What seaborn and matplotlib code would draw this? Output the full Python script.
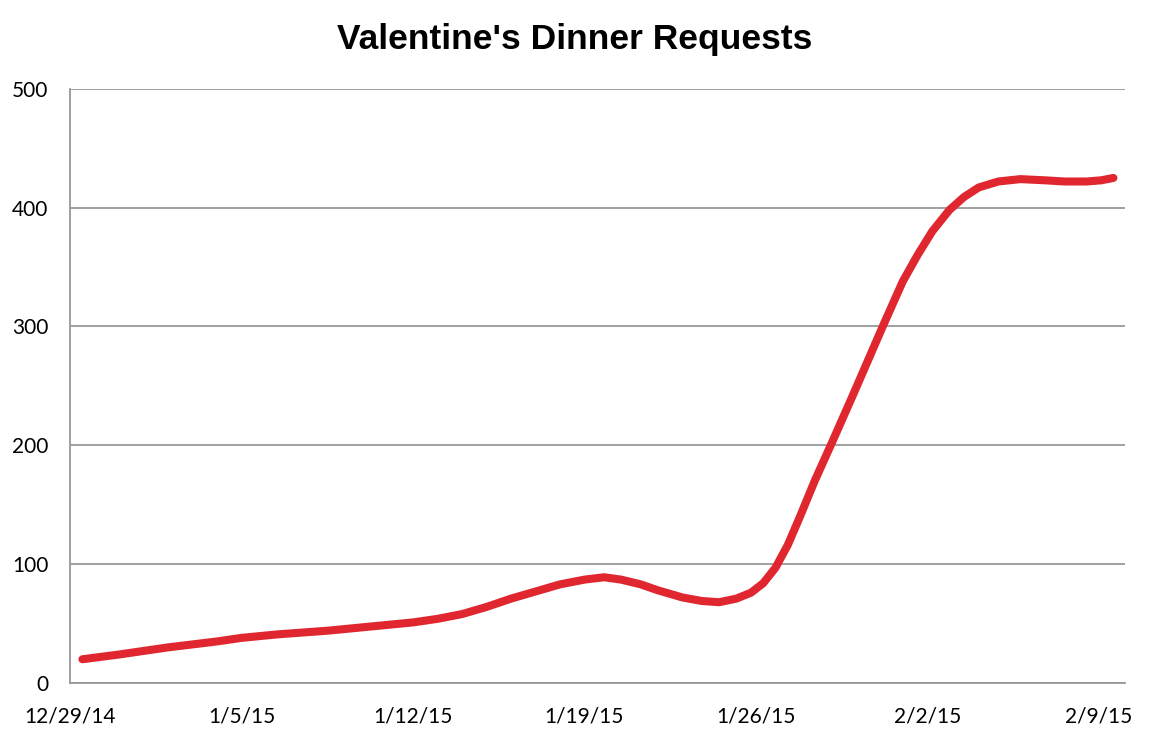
import numpy as np
import pandas as pd
import seaborn as sns
import matplotlib.pyplot as plt

# days after 12/29/14
days = [0.5, 2, 4, 6, 7, 8.5, 10.5, 12, 13, 14, 15, 16, 17, 18, 19, 20, 21,
        21.8, 22.5, 23.3, 24, 25, 25.8, 26.5, 27.2, 27.8, 28.3, 28.8, 29.3,
        29.8, 30.4, 31.1, 32, 33.2, 34, 34.6, 35.2, 35.9, 36.5, 37.1, 37.9,
        38.8, 39.8, 40.6, 41.5, 42.1, 42.6]
requests = [20, 24, 30, 35, 38, 41, 44, 47, 49, 51, 54, 58, 64, 71, 77, 83, 87,
            89, 87, 83, 78, 72, 69, 68, 71, 76, 84, 97, 116,
            140, 170, 202, 244, 301, 338, 360, 380, 398, 409, 417, 422,
            424, 423, 422, 422, 423, 425]
tick_labels = ["12/29/14", "1/5/15", "1/12/15", "1/19/15", "1/26/15", "2/2/15", "2/9/15"]
y_ticks = [0, 100, 200, 300, 400, 500]

start = pd.Timestamp("2014-12-29")
df = pd.DataFrame({"date": start + pd.to_timedelta(days, unit="D"),
                   "requests": requests})

sns.set_style("white")
plt.rcParams["font.family"] = ["Lato", "DejaVu Sans"]
plt.rcParams["text.color"] = "black"
plt.rcParams["xtick.labelcolor"] = "black"
plt.rcParams["ytick.labelcolor"] = "black"

fig = plt.figure(figsize=(11.5, 7.4), dpi=100)
ax = fig.add_axes([0.061, 0.077, 0.917, 0.803])

sns.lineplot(data=df, x="date", y="requests", ax=ax, color="#e0262f",
             linewidth=5.8, solid_capstyle="round", solid_joinstyle="round")

grey = "#999999"
ax.set_ylim(0, 500)
ax.set_yticks(y_ticks)
ax.set_yticklabels([str(v) for v in y_ticks], fontsize=15)
ax.yaxis.grid(True, color=grey, linewidth=1.3)
ax.set_axisbelow(True)

tick_dates = [start + pd.Timedelta(days=7 * i) for i in range(len(tick_labels))]
ax.set_xticks(tick_dates)
ax.set_xticklabels(tick_labels, fontsize=15)
ax.set_xlim(start, start + pd.Timedelta(days=43.06))

for s in ["top", "right"]:
    ax.spines[s].set_visible(False)
for s in ["left", "bottom"]:
    ax.spines[s].set_color(grey)
    ax.spines[s].set_linewidth(1.3)

ax.tick_params(axis="x", direction="out", length=4, width=1.3, color=grey, pad=13)
ax.tick_params(axis="y", direction="out", length=4.5, width=1.3, color=grey, pad=11)
ax.set_xlabel("")
ax.set_ylabel("")

fig.text(0.5, 0.946, "Valentine's Dinner Requests", ha="center", va="center",
         fontsize=25.5, fontweight="bold", color="black",
         family=["Liberation Sans", "DejaVu Sans"])

fig.savefig("out.png", dpi=100)
